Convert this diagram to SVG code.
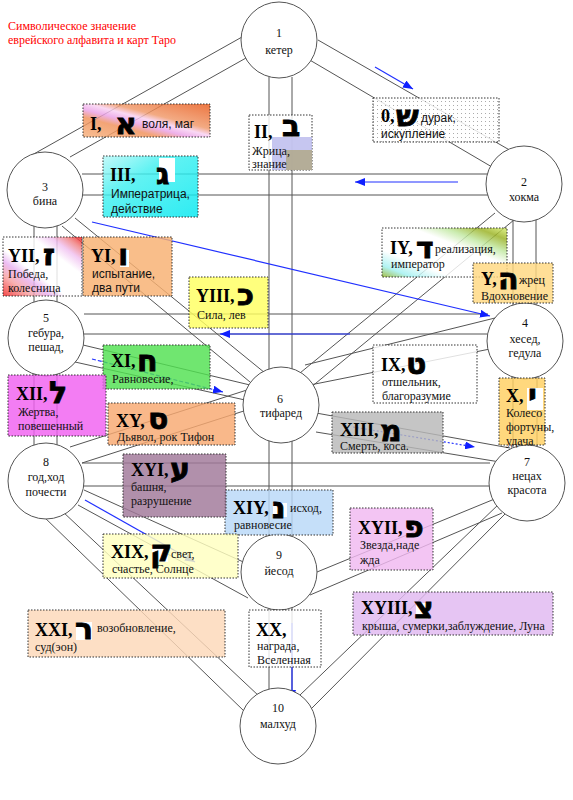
<svg xmlns="http://www.w3.org/2000/svg" width="573" height="800" viewBox="0 0 573 800">
<style>
.ln{stroke:#555;stroke-width:1;fill:none}
.bl{stroke:#2030ff;stroke-width:1.2;fill:none;marker-end:url(#ah)}
.nd{fill:#fff;stroke:#555;stroke-width:1}
.nt{font-family:"Liberation Serif",serif;font-size:12px;text-anchor:middle;fill:#111}
.bx{stroke:#333;stroke-width:1;stroke-dasharray:1.5,1.5;fill-opacity:.82}
.rn{font-family:"Liberation Serif",serif;font-size:18px;font-weight:bold;fill:#000}
.hb{font-family:"DejaVu Sans","Liberation Sans",sans-serif;font-size:30px;font-weight:bold;fill:#000;stroke:#000;stroke-width:.8}
.ds{font-family:"Liberation Serif",serif;font-size:12px;fill:#111}
.ss{font-family:"Liberation Sans",sans-serif;font-size:12px;fill:#111}
.tt{font-family:"Liberation Serif",serif;font-size:12px;fill:#ff0000}
.wh{fill:#fff}
</style>
<defs>
<marker id="ah" viewBox="0 0 10 8" refX="10" refY="4" markerWidth="10" markerHeight="8" markerUnits="userSpaceOnUse" orient="auto"><path d="M0,0L10,4L0,8z" fill="#1020ff"/></marker>
<pattern id="dots" width="4" height="4" patternUnits="userSpaceOnUse"><rect width="4" height="4" fill="#fff"/><rect x="1" y="1" width="1" height="1" fill="#999"/></pattern>
<linearGradient id="gI" x1="0" y1="1" x2="1" y2="0"><stop offset="0" stop-color="#f6b07c"/><stop offset=".3" stop-color="#f09058"/><stop offset=".42" stop-color="#eaa0e6"/><stop offset=".52" stop-color="#f8d0f2"/><stop offset=".62" stop-color="#f09868"/><stop offset="1" stop-color="#e85818"/></linearGradient>
<linearGradient id="gIII" x1="0" y1="0" x2="1" y2="1"><stop offset="0" stop-color="#b8f8f8"/><stop offset=".35" stop-color="#40f0f0"/><stop offset="1" stop-color="#00e8f0"/></linearGradient>
<linearGradient id="gIY" x1="0" y1="1" x2="1" y2="0"><stop offset="0" stop-color="#90b020"/><stop offset=".12" stop-color="#a0f0f0"/><stop offset=".28" stop-color="#fff"/><stop offset=".62" stop-color="#fff"/><stop offset=".75" stop-color="#c0e8a0"/><stop offset=".88" stop-color="#98b020"/><stop offset="1" stop-color="#d8f070"/></linearGradient>
<linearGradient id="gYII" x1="0" y1="1" x2="1" y2="0"><stop offset="0" stop-color="#f02020"/><stop offset=".18" stop-color="#f8a0a0"/><stop offset=".3" stop-color="#e8b0f0"/><stop offset=".4" stop-color="#fff"/><stop offset=".68" stop-color="#fff"/><stop offset=".8" stop-color="#f0c0f0"/><stop offset=".9" stop-color="#f08080"/><stop offset="1" stop-color="#f01010"/></linearGradient>
</defs>
<rect width="573" height="800" fill="#fff"/>
<text class="tt" x="8" y="30">Символическое значение</text>
<text class="tt" x="8" y="44">еврейского алфавита и карт Таро</text>
<g id="connectors">
<path class="ln" d="M318,40L513,152M308,59L492,167"/>
<path class="ln" d="M242,37L32,155M246,58L70,157"/>
<path class="ln" d="M269,77L269,690M292,77L292,690"/>
<path class="ln" d="M82,174L488,174M82,195L488,195"/>
<path class="ln" d="M513,218L513,306M536,218L536,306"/>
<path class="ln" d="M495,213L300,373M520,215L310,388"/>
<path class="ln" d="M34,225L34,302M57,225L57,302"/>
<path class="ln" d="M75,218L265,373M62,226L250,382"/>
<path class="ln" d="M84,314L488,314M84,334L488,334"/>
<path class="ln" d="M305,365L495,318M310,385L490,349"/>
<path class="ln" d="M513,376L513,447M537,376L537,447"/>
<path class="ln" d="M83,345L250,385M75,362L245,400"/>
<path class="ln" d="M34,374L34,445M57,374L57,445"/>
<path class="ln" d="M316,413L510,448M316,432L500,462"/>
<path class="ln" d="M70,447L250,389M82,463L250,409"/>
<path class="ln" d="M82,463L490,463M82,486L490,486"/>
<path class="ln" d="M317,572L497,498M310,595L502,513"/>
<path class="ln" d="M500,503L300,695M507,512L312,708"/>
<path class="ln" d="M78,505L248,598M84,490L250,565"/>
<path class="ln" d="M42,515L245,712M62,511L260,697"/>
<path class="bl" d="M375,67L413,89"/>
<path class="bl" d="M458,182L355,182"/>
<path class="bl" d="M92,222L490,316"/>
<path class="bl" d="M350,334L220,334"/>
<path class="bl" d="M92,359L223,392" stroke-dasharray="4,2"/>
<path class="bl" d="M353,427L475,447" stroke-dasharray="2,2"/>
<path class="bl" d="M85,500L195,562"/>
<path class="bl" d="M292,623L292,700" stroke-width="2"/>
</g>
<g id="n1"><circle class="nd" cx="279" cy="40" r="38"/><text class="nt" x="279" y="37">1</text><text class="nt" x="279" y="54">кетер</text></g>
<g id="n2"><circle class="nd" cx="524" cy="184" r="38"/><text class="nt" x="524" y="186">2</text><text class="nt" x="524" y="201">хокма</text></g>
<g id="n3"><circle class="nd" cx="45" cy="190" r="38"/><text class="nt" x="45" y="191">3</text><text class="nt" x="45" y="205">бина</text></g>
<g id="n4"><circle class="nd" cx="525" cy="341" r="38"/><text class="nt" x="525" y="327">4</text><text class="nt" x="525" y="343">хесед,</text><text class="nt" x="525" y="357">гедула</text></g>
<g id="n5"><circle class="nd" cx="46" cy="338" r="38"/><text class="nt" x="46" y="322">5</text><text class="nt" x="46" y="337">гебура,</text><text class="nt" x="46" y="351">пешад,</text></g>
<g id="n6"><circle class="nd" cx="281" cy="405" r="38"/><text class="nt" x="280" y="403">6</text><text class="nt" x="281" y="417">тифаред</text></g>
<g id="n7"><circle class="nd" cx="527" cy="483" r="38"/><text class="nt" x="527" y="466">7</text><text class="nt" x="527" y="480">нецах</text><text class="nt" x="527" y="494">красота</text></g>
<g id="n8"><circle class="nd" cx="46" cy="481" r="38"/><text class="nt" x="46" y="466">8</text><text class="nt" x="46" y="481">год,ход</text><text class="nt" x="46" y="496">почести</text></g>
<g id="n9"><circle class="nd" cx="279" cy="572" r="38"/><text class="nt" x="279" y="559">9</text><text class="nt" x="279" y="575">йесод</text></g>
<g id="n10"><circle class="nd" cx="278" cy="726" r="38"/><text class="nt" x="278" y="712">10</text><text class="nt" x="278" y="728">малхуд</text></g>
<g id="p0"><rect class="bx" x="373" y="98" width="126" height="44" fill="url(#dots)" fill-opacity="1"/><text class="rn" x="381" y="122">0,</text><text class="hb" x="396" y="126">ש</text><text class="ss" x="421" y="122">дурак,</text><text class="ss" x="381" y="138">искупление</text></g>
<g id="p1"><rect class="bx" x="83" y="104" width="127" height="33" fill="url(#gI)"/><text class="rn" x="90" y="130">I,</text><text class="hb" x="115" y="134">א</text><text class="ss" x="142" y="128">воля, маг</text></g>
<g id="p2"><rect class="bx" x="249" y="115" width="63" height="55" fill="#fff"/><rect x="272" y="137" width="40" height="33" fill="#b8b8ec" opacity=".8"/><rect x="286" y="150" width="26" height="20" fill="#b0a888" opacity=".85"/><text class="rn" x="254" y="138">II,</text><text class="hb" x="282" y="136">ב</text><text class="ds" x="252" y="155">Жрица,</text><text class="ds" x="252" y="168">знание</text></g>
<g id="p3"><rect class="bx" x="103" y="156" width="95" height="61" fill="url(#gIII)"/><rect class="wh" x="159" y="158" width="16" height="24"/><text class="rn" x="110" y="181">III,</text><text class="hb" x="156" y="184">ג</text><text class="ss" x="111" y="198">Императрица,</text><text class="ss" x="111" y="213">действие</text></g>
<g id="p4"><rect class="bx" x="382" y="228" width="125" height="49" fill="url(#gIY)"/><text class="rn" x="390" y="254">IY,</text><text class="hb" x="416" y="258">ד</text><text class="ds" x="435" y="253">реализация,</text><text class="ds" x="391" y="268">император</text></g>
<g id="p5"><rect class="bx" x="473" y="263" width="80" height="40" fill="#ffd880"/><text class="rn" x="481" y="285">Y,</text><text class="hb" x="498" y="289">ה</text><text class="ds" x="519" y="284">жрец</text><text class="ds" x="481" y="300">Вдохновение</text></g>
<g id="p6"><rect class="bx" x="83" y="237" width="89" height="59" fill="#f8b070"/><rect class="wh" x="120" y="250" width="9" height="17"/><text class="rn" x="91" y="262">YI,</text><text class="hb" x="118" y="265">ו</text><text class="ss" x="92" y="278">испытание,</text><text class="ss" x="92" y="292">два пути</text></g>
<g id="p7"><rect class="bx" x="3" y="237" width="79" height="59" fill="url(#gYII)"/><text class="rn" x="8" y="262">YII,</text><text class="hb" x="43" y="265">ז</text><text class="ds" x="8" y="278">Победа,</text><text class="ds" x="8" y="292">колесница</text></g>
<g id="p8"><rect class="bx" x="189" y="277" width="79" height="51" fill="#ffff60"/><text class="rn" x="196" y="302">YIII,</text><text class="hb" x="237" y="305">כ</text><text class="ds" x="197" y="319">Сила, лев</text></g>
<g id="p9"><rect class="bx" x="373" y="345" width="104" height="58" fill="#fff"/><text class="rn" x="381" y="371">IX,</text><text class="hb" x="406" y="374">ט</text><text class="ds" x="382" y="386">отшельник,</text><text class="ds" x="382" y="400">благоразумие</text></g>
<g id="p10"><rect class="bx" x="499" y="378" width="46" height="67" fill="#ffd060"/><rect class="wh" x="527" y="388" width="16" height="22"/><text class="rn" x="506" y="402">X,</text><text class="hb" x="528" y="405">י</text><text class="ds" x="506" y="417">Колесо</text><text class="ds" x="506" y="431">фортуны,</text><text class="ds" x="506" y="445">удача</text></g>
<g id="p11"><rect class="bx" x="103" y="345" width="107" height="44" fill="#50e050"/><text class="rn" x="111" y="367">XI,</text><text class="hb" x="137" y="371">ח</text><text class="ds" x="112" y="383">Равновесие,</text></g>
<g id="p12"><rect class="bx" x="8" y="375" width="98" height="61" fill="#f060f0"/><text class="rn" x="16" y="400">XII,</text><text class="hb" x="49" y="403">ל</text><text class="ds" x="18" y="416">Жертва,</text><text class="ds" x="18" y="430">повешенный</text></g>
<g id="p13"><rect class="bx" x="332" y="412" width="111" height="41" fill="#b8b8b8"/><text class="rn" x="340" y="436">XIII,</text><text class="hb" x="380" y="441">מ</text><text class="ds" x="340" y="450">Смерть, коса.</text></g>
<g id="p14"><rect class="bx" x="225" y="490" width="108" height="45" fill="#b8d8f8"/><rect class="wh" x="273" y="503" width="14" height="14"/><text class="rn" x="233" y="514">XIY,</text><text class="hb" x="272" y="518">נ</text><text class="ds" x="290" y="512">исход,</text><text class="ds" x="234" y="529">равновесие</text></g>
<g id="p15"><rect class="bx" x="108" y="403" width="127" height="42" fill="#f8a870"/><text class="rn" x="116" y="427">XY,</text><text class="hb" x="148" y="429">ס</text><text class="ds" x="117" y="441">Дьявол, рок  Тифон</text></g>
<g id="p16"><rect class="bx" x="123" y="454" width="103" height="63" fill="#a07898"/><text class="rn" x="131" y="476">XYI,</text><text class="hb" x="170" y="479">ע</text><text class="ds" x="131" y="491">башня,</text><text class="ds" x="131" y="505">разрушение</text></g>
<g id="p17"><rect class="bx" x="350" y="508" width="83" height="62" fill="#f0b8f0"/><text class="rn" x="358" y="534">XYII,</text><text class="hb" x="404" y="537">פ</text><text class="ds" x="360" y="549">Звезда,наде</text><text class="ds" x="360" y="564">жда</text></g>
<g id="p18"><rect class="bx" x="353" y="592" width="200" height="43" fill="#e0b8f0"/><rect class="wh" x="416" y="603" width="12" height="16"/><text class="rn" x="361" y="614">XYIII,</text><text class="hb" x="414" y="618">צ</text><text class="ds" x="362" y="630">крыша, сумерки,заблуждение, Луна</text></g>
<g id="p19"><rect class="bx" x="103" y="534" width="135" height="44" fill="#ffffc0"/><rect class="wh" x="152" y="545" width="16" height="17"/><text class="rn" x="111" y="558">XIX,</text><text class="hb" x="150" y="561">ק</text><text class="ds" x="171" y="558">свет,</text><text class="ds" x="112" y="573">счастье, Солнце</text></g>
<g id="p20"><rect class="bx" x="249" y="610" width="72" height="57" fill="#fff"/><text class="rn" x="256" y="636">XX,</text><text class="ds" x="257" y="650">награда,</text><text class="ds" x="257" y="664">Вселенная</text></g>
<g id="p21"><rect class="bx" x="28" y="610" width="197" height="47" fill="#fcd8b8"/><rect class="wh" x="76" y="622" width="16" height="18"/><text class="rn" x="35" y="636">XXI,</text><text class="hb" x="75" y="639">ר</text><text class="ds" x="97" y="632">возобновление,</text><text class="ds" x="35" y="651">суд(эон)</text></g>
</svg>
